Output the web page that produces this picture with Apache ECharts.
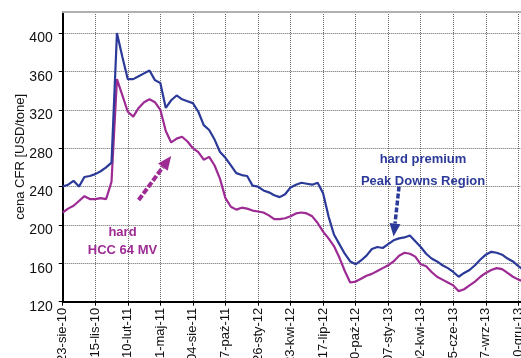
<!DOCTYPE html>
<html><head><meta charset="utf-8">
<script src="https://cdn.jsdelivr.net/npm/echarts@6/dist/echarts.min.js"></script>
<style>html,body{margin:0;padding:0;background:#fff;overflow:hidden}#c{width:526px;height:358px}</style>
</head><body><div id="c"></div>
<script>
// Tick labels (one every 60 trading days); series sampled every 10 trading days
const tickLabels = ['23-sie-10','15-lis-10','10-lut-11','11-maj-11','04-sie-11','27-paź-11','26-sty-12','23-kwi-12','17-lip-12','10-paź-12','07-sty-13','02-kwi-13','25-cze-13','17-wrz-13','10-gru-13'];
const pointsPerTick = 6;

const hardPremium = [240,242,246,240,250,251,253,256,260,265,
  400,375,352,352,355,358,361,351,348,322,
  330,335,331,329,327,318,304,299,289,276,
  270,262,254,252,251,241,240,236,234,231,
  229,232,239,242,244,243,242,244,233,209,
  190,180,170,162,159,163,168,175,177,176,
  180,184,186,187,189,183,177,170,165,162,
  158,155,151,146,150,153,158,164,169,172,
  171,169,165,162,157,153];

const hardHCC = [213,217,220,225,230,227,227,228,227,245,
  352,335,318,313,322,328,331,328,320,298,
  286,290,292,287,280,276,268,271,262,248,
  228,219,216,218,217,215,214,213,210,206,
  206,207,209,212,213,212,209,202,193,186,
  178,166,152,140,141,144,147,149,152,155,
  158,162,168,171,170,167,159,157,151,146,
  143,140,137,131,133,137,141,146,150,153,
  155,154,150,146,143,141];

const categories = hardPremium.map((_, i) => (i % pointsPerTick === 0 && tickLabels[i / pointsPerTick]) ? tickLabels[i / pointsPerTick] : 'd' + i);

const BLUE = '#2b3a98', PURPLE = '#9d2b93';
const FONT = 'Liberation Sans, Arial, sans-serif';
const GRIDLINE = {color: '#666', type: 'dotted', width: 1};

const chart = echarts.init(document.getElementById('c'));
chart.setOption({
  animation: false,
  grid: {left: 62.7, top: 12, bottom: 56.3, right: 2.2, containLabel: false, outerBoundsMode: 'none'},
  xAxis: [{
    type: 'category', data: categories, boundaryGap: false,
    axisLine: {lineStyle: {color: '#000', width: 2}},
    axisTick: {show: true, interval: pointsPerTick - 1, length: 4, lineStyle: {color: '#000', width: 1}},
    axisLabel: {interval: pointsPerTick - 1, rotate: 90, margin: 6, color: '#111', fontSize: 13, fontFamily: FONT, hideOverlap: false,
      formatter: (v, i) => (i % pointsPerTick === 0 ? (tickLabels[i / pointsPerTick] || '') : '')},
    splitLine: {show: true, interval: pointsPerTick - 1, lineStyle: GRIDLINE}
  }, {
    type: 'category', data: categories, boundaryGap: false, position: 'top',
    axisLine: {show: true, lineStyle: {color: '#b0b0b0', width: 2}},
    axisTick: {show: false}, axisLabel: {show: false}, splitLine: {show: false}
  }],
  yAxis: {
    type: 'value', min: 120, max: 422, interval: 40,
    name: 'cena CFR [USD/tone]', nameLocation: 'middle', nameGap: 36, nameRotate: 90, nameMoveOverlap: false,
    nameTextStyle: {color: '#111', fontSize: 13, fontFamily: FONT},
    axisLine: {show: true, lineStyle: {color: '#000', width: 2}},
    axisTick: {show: true, length: 4, lineStyle: {color: '#000'}},
    axisLabel: {showMaxLabel: false, margin: 10, color: '#111', fontSize: 14, fontFamily: FONT, verticalAlign: 'top', lineHeight: 11},
    splitLine: {show: true, lineStyle: GRIDLINE}
  },
  series: [
    {name: 'hard premium Peak Downs Region', type: 'line', data: hardPremium, showSymbol: false, symbol: 'none',
      lineStyle: {color: BLUE, width: 2.2}, itemStyle: {color: BLUE}, z: 3},
    {name: 'hard HCC 64 MV', type: 'line', data: hardHCC, showSymbol: false, symbol: 'none',
      lineStyle: {color: PURPLE, width: 2.2}, itemStyle: {color: PURPLE}, z: 2}
  ]
});

// annotations added straight to the renderer (no second setOption)
const zr = chart.getZr();
const G = echarts.graphic;
const toPx = (pt) => chart.convertToPixel({gridIndex: 0}, pt);

function addArrow(from, to, color, headLen, headW, width, dash) {
  const p0 = toPx(from), p1 = toPx(to);
  const dx = p1[0] - p0[0], dy = p1[1] - p0[1];
  const L = Math.hypot(dx, dy), ux = dx / L, uy = dy / L;
  const bx = p1[0] - ux * headLen, by = p1[1] - uy * headLen;
  const px = -uy * headW / 2, py = ux * headW / 2;
  zr.add(new G.Line({shape: {x1: p0[0], y1: p0[1], x2: bx, y2: by}, style: {stroke: color, lineWidth: width, lineDash: dash}, z: 10}));
  zr.add(new G.Polygon({shape: {points: [[p1[0], p1[1]], [bx + px, by + py], [bx - px, by - py]]}, style: {fill: color}, z: 10}));
}
addArrow([62.2, 240], [61.1, 188], BLUE, 13, 11, 3.5, [5, 2]);
addArrow([14.4, 226], [20.1, 272], PURPLE, 14, 12, 4, [6, 2]);

zr.add(new G.Text({x: 423, y: 170, z: 11, style: {text: 'hard premium\nPeak Downs Region', fill: BLUE, font: 'bold 13px ' + FONT, align: 'center', verticalAlign: 'middle', lineHeight: 22}}));
zr.add(new G.Text({x: 122.5, y: 241, z: 11, style: {text: 'hard\nHCC 64 MV', fill: PURPLE, font: 'bold 13px ' + FONT, align: 'center', verticalAlign: 'middle', lineHeight: 18}}));
</script></body></html>
